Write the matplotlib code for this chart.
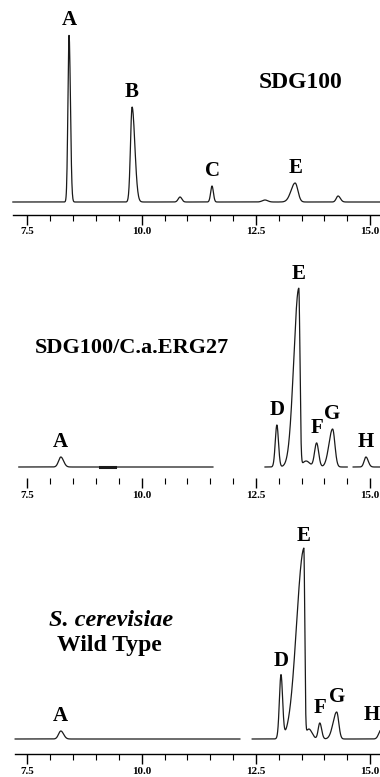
import numpy as np
import matplotlib.pyplot as plt

plt.rcParams['font.family'] = ['Liberation Serif', 'DejaVu Serif']
plt.rcParams['font.weight'] = 'bold'

# retention time window shown (min)
t_left, t_right = 6.898, 15.218
major_ticks = [7.5, 10.0, 12.5, 15.0]
major_labels = ['7.5', '10.0', '12.5', '15.0']
minor_ticks = np.arange(7.5, 15.01, 0.5)

# peaks: retention time, height (detector units), left/right width, label
# SDG100
p1_t = [8.41, 9.79, 10.84, 11.54, 12.70, 13.36, 14.30]
p1_h = [167, 95, 5, 16, 2, 19, 6]
p1_sl = [0.025, 0.035, 0.04, 0.03, 0.06, 0.09, 0.04]
p1_sr = [0.03, 0.06, 0.04, 0.03, 0.06, 0.06, 0.05]
p1_lab = ['A', 'B', '', 'C', '', 'E', '']
p1_seg = [(7.18, 15.22)]

# SDG100/C.a.ERG27
p2_t = [8.23, 12.96, 13.44, 13.60, 13.83, 14.18, 14.91]
p2_h = [10, 42, 178, 6, 24, 38, 10]
p2_sl = [0.05, 0.035, 0.11, 0.08, 0.045, 0.08, 0.04]
p2_sr = [0.06, 0.035, 0.025, 0.08, 0.045, 0.05, 0.05]
p2_lab = ['A', 'D', 'E', '', 'F', 'G', 'H']
p2_seg = [(7.31, 11.56), (12.70, 14.50), (14.63, 15.22)]

# S. cerevisiae wild type
p3_t = [8.23, 13.05, 13.55, 13.66, 13.90, 14.27, 15.24]
p3_h = [8, 63, 188, 10, 16, 27, 9]
p3_sl = [0.05, 0.035, 0.16, 0.07, 0.035, 0.08, 0.05]
p3_sr = [0.06, 0.035, 0.02, 0.07, 0.04, 0.045, 0.05]
p3_lab = ['A', 'D', 'E', '', 'F', 'G', 'H']
p3_seg = [(7.23, 12.15), (12.42, 15.22)]

W, H = 380, 777
fig = plt.figure(figsize=(W / 100, H / 100), dpi=100)


def trace(t, pt, ph, sl, sr):
    y = np.zeros_like(t)
    for c, h, a, b in zip(pt, ph, sl, sr):
        s = np.where(t < c, a, b)
        y += h * np.exp(-0.5 * ((t - c) / s) ** 2)
    return y


def panel(top, bottom, base, pt, ph, sl, sr, labs, segs, spine_from=None):
    ax = fig.add_axes([0, 1 - bottom / H, 1, (bottom - top) / H])
    ax.set_xlim(t_left, t_right)
    ax.set_ylim(-base, bottom - top - base)
    for a, b in segs:
        t = np.linspace(a, b, 1500)
        ax.plot(t, trace(t, pt, ph, sl, sr), color='#1a1a1a', lw=0.9)
    for c, h, lab in zip(pt, ph, labs):
        if not lab:
            continue
        if c > 15.1:
            # peak runs off the right edge; keep its letter inside
            ax.text(t_right, h + 5, lab, ha='right', va='bottom', fontsize=15,
                    fontweight='bold', clip_on=False)
        else:
            ax.text(c, h + 5, lab, ha='center', va='bottom', fontsize=15,
                    fontweight='bold', clip_on=False)
    for s in ['top', 'left', 'right']:
        ax.spines[s].set_visible(False)
    if spine_from is None:
        ax.spines['bottom'].set_visible(False)
    else:
        ax.spines['bottom'].set_bounds(spine_from, t_right)
        ax.spines['bottom'].set_linewidth(1.0)
    ax.set_yticks([])
    ax.set_xticks(major_ticks)
    ax.set_xticklabels(major_labels, fontsize=8, fontweight='bold')
    ax.set_xticks(minor_ticks, minor=True)
    ax.tick_params(axis='x', which='major', direction='out', length=7,
                   width=1.0, pad=2)
    ax.tick_params(axis='x', which='minor', direction='out', length=4,
                   width=0.8)
    ax.patch.set_alpha(0)
    return ax


ax1 = panel(0, 215, 13, p1_t, p1_h, p1_sl, p1_sr, p1_lab, p1_seg, spine_from=7.18)
ax2 = panel(260, 478, 11, p2_t, p2_h, p2_sl, p2_sr, p2_lab, p2_seg)
ax2.plot([9.09, 9.42], [0, 0], color='#1a1a1a', lw=2.2)
ax3 = panel(520, 754, 15, p3_t, p3_h, p3_sl, p3_sr, p3_lab, p3_seg, spine_from=7.22)

fig.text(301 / W, 1 - 82 / H, 'SDG100', ha='center', va='center',
         fontsize=17, fontweight='bold')
fig.text(132 / W, 1 - 348 / H, 'SDG100/C.a.ERG27', ha='center', va='center',
         fontsize=16, fontweight='bold')
fig.text(111 / W, 1 - 620 / H, 'S. cerevisiae', ha='center', va='center',
         fontsize=17.5, fontweight='bold', style='italic')
fig.text(109 / W, 1 - 645 / H, 'Wild Type', ha='center', va='center',
         fontsize=17, fontweight='bold')

fig.savefig('out.png', dpi=100)
